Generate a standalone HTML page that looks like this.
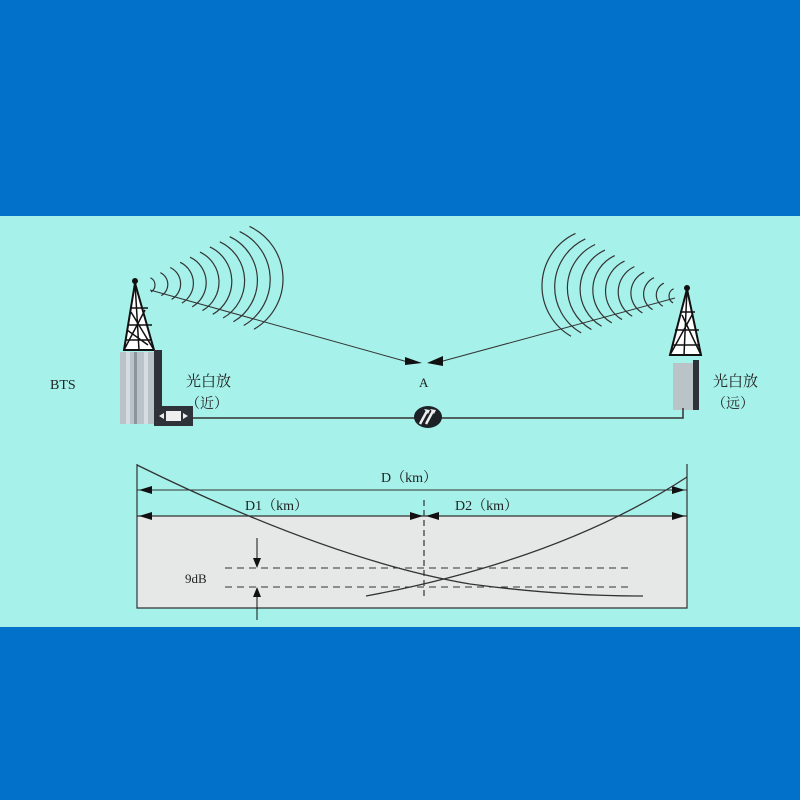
<!DOCTYPE html>
<html><head><meta charset="utf-8"><style>
html,body{margin:0;padding:0;width:800px;height:800px;overflow:hidden;background:#0271c9}
svg{display:block}
text{font-family:"Liberation Serif","Noto Serif CJK SC",serif;fill:#222}
</style></head><body>
<svg id="s" width="800" height="800" viewBox="0 0 800 800">
<rect x="0" y="0" width="800" height="800" fill="#0271c9"/>
<rect x="0" y="216" width="800" height="411" fill="#a6f1ea"/>
<g id="waves" stroke="#333" stroke-width="1.2" fill="none"></g>
<line x1="150" y1="290" x2="408" y2="362" stroke="#333" stroke-width="1"/>
<line x1="675" y1="298" x2="443" y2="361" stroke="#333" stroke-width="1"/>
<polygon points="405,357 422,363 405,365" fill="#111"/>
<polygon points="443,356 427,363 443,366" fill="#111"/>
<text x="419" y="387" font-size="13" font-family="Liberation Sans,sans-serif">A</text>
<g stroke="#111" stroke-width="2" fill="#fff">
<polygon points="135,283 124,350 154,350"/>
<path d="M135,283 L139,350 M128,325 L152,325 M126,340 L152,340 M130,308 L148,308 M124,350 L145,310 M154,350 L131,312 M127,330 L148,345" fill="none" stroke-width="1.5"/>
</g>
<circle cx="135" cy="281" r="3" fill="#111"/>
<rect x="120" y="352" width="35" height="72" fill="#b9c3c8"/>
<rect x="126" y="352" width="4" height="72" fill="#d6dde0"/>
<rect x="134" y="352" width="3" height="72" fill="#8a969c"/>
<rect x="144" y="352" width="4" height="72" fill="#d6dde0"/>
<rect x="154" y="350" width="8" height="60" fill="#2d3338"/>
<rect x="154" y="406" width="39" height="20" fill="#2d3338"/>
<rect x="166" y="411" width="15" height="10" fill="#eee"/>
<polygon points="159,416 164,413 164,419" fill="#eee"/>
<polygon points="188,416 183,413 183,419" fill="#eee"/>
<g stroke="#111" stroke-width="2" fill="#fff">
<polygon points="687,289 670,355 701,355"/>
<path d="M687,289 L684,355 M675,330 L699,330 M672,345 L700,345 M680,312 L695,312 M670,355 L692,315 M701,355 L682,315" fill="none" stroke-width="1.5"/>
</g>
<circle cx="687" cy="288" r="3" fill="#111"/>
<rect x="673" y="363" width="20" height="47" fill="#b9c3c8"/>
<rect x="693" y="360" width="6" height="50" fill="#2d3338"/>
<polyline points="193,418 683,418 683,408" fill="none" stroke="#333" stroke-width="1.5"/>
<ellipse cx="428" cy="417" rx="14" ry="11" fill="#1c2226"/>
<path d="M420,424 L427,411 M426,424 L433,411" stroke="#eee" stroke-width="2.5"/>
<polygon points="424,409 430,410 428,414" fill="#eee"/>
<polygon points="430,409 436,410 434,414" fill="#eee"/>
<text x="50" y="389" font-size="14" font-family="Liberation Sans,sans-serif">BTS</text>
<text x="186" y="386" font-size="15" fill="#444">光白放</text>
<text x="186" y="408" font-size="14" fill="#444">（近）</text>
<text x="713" y="386" font-size="15" fill="#444">光白放</text>
<text x="712" y="408" font-size="14" fill="#444">（远）</text>
<rect x="137" y="516" width="550" height="92" fill="#e6e8e8"/>
<polyline points="137,464 137,608 687,608 687,464" fill="none" stroke="#333" stroke-width="1.2"/>
<line x1="137" y1="490" x2="687" y2="490" stroke="#333" stroke-width="1"/>
<line x1="137" y1="516" x2="687" y2="516" stroke="#333" stroke-width="1.2"/>
<polygon points="139,490 152,486 152,494" fill="#111"/>
<polygon points="685,490 672,486 672,494" fill="#111"/>
<polygon points="139,516 152,512 152,520" fill="#111"/>
<polygon points="685,516 672,512 672,520" fill="#111"/>
<polygon points="423,516 410,512 410,520" fill="#111"/>
<polygon points="426,516 439,512 439,520" fill="#111"/>
<line x1="424" y1="500" x2="424" y2="596" stroke="#333" stroke-width="1.2" stroke-dasharray="6,4"/>
<line x1="225" y1="568" x2="632" y2="568" stroke="#333" stroke-width="1" stroke-dasharray="7,5"/>
<line x1="225" y1="587" x2="632" y2="587" stroke="#333" stroke-width="1" stroke-dasharray="7,5"/>
<path d="M137,465 Q330,560 470,584 Q560,596 643,596" fill="none" stroke="#333" stroke-width="1.3"/>
<path d="M366,596 Q560,560 687,477" fill="none" stroke="#333" stroke-width="1.3"/>
<line x1="257" y1="538" x2="257" y2="560" stroke="#111" stroke-width="1"/>
<polygon points="257,568 253,558 261,558" fill="#111"/>
<line x1="257" y1="596" x2="257" y2="620" stroke="#111" stroke-width="1"/>
<polygon points="257,587 253,597 261,597" fill="#111"/>
<text x="381" y="482" font-size="14">D（km）</text>
<text x="245" y="510" font-size="14">D1（km）</text>
<text x="455" y="510" font-size="14">D2（km）</text>
<text x="185" y="583" font-size="13">9dB</text>
</svg>
<script>
var g=document.getElementById('waves'),ns='http://www.w3.org/2000/svg';
function arcs(c0x,c0y,c1x,c1y,dir,r0,r1,n,a1,a2){
 for(var i=0;i<n;i++){var t=i/(n-1);
  var cx=c0x+(c1x-c0x)*t,cy=c0y+(c1y-c0y)*t,r=r0+(r1-r0)*t;
  var s=a1*Math.PI/180,e=a2*Math.PI/180;
  var x1=cx+dir*r*Math.cos(s),y1=cy+r*Math.sin(s),x2=cx+dir*r*Math.cos(e),y2=cy+r*Math.sin(e);
  var p=document.createElementNS(ns,'path');
  p.setAttribute('d','M'+x1+','+y1+' A'+r+','+r+' 0 0 '+(dir>0?1:0)+' '+x2+','+y2);
  g.appendChild(p);}
}
arcs(147,285,225,279,1,8,58,11,-65,60);
arcs(677,296,600,286,-1,8,58,11,-65,60);
</script>
</body></html>
